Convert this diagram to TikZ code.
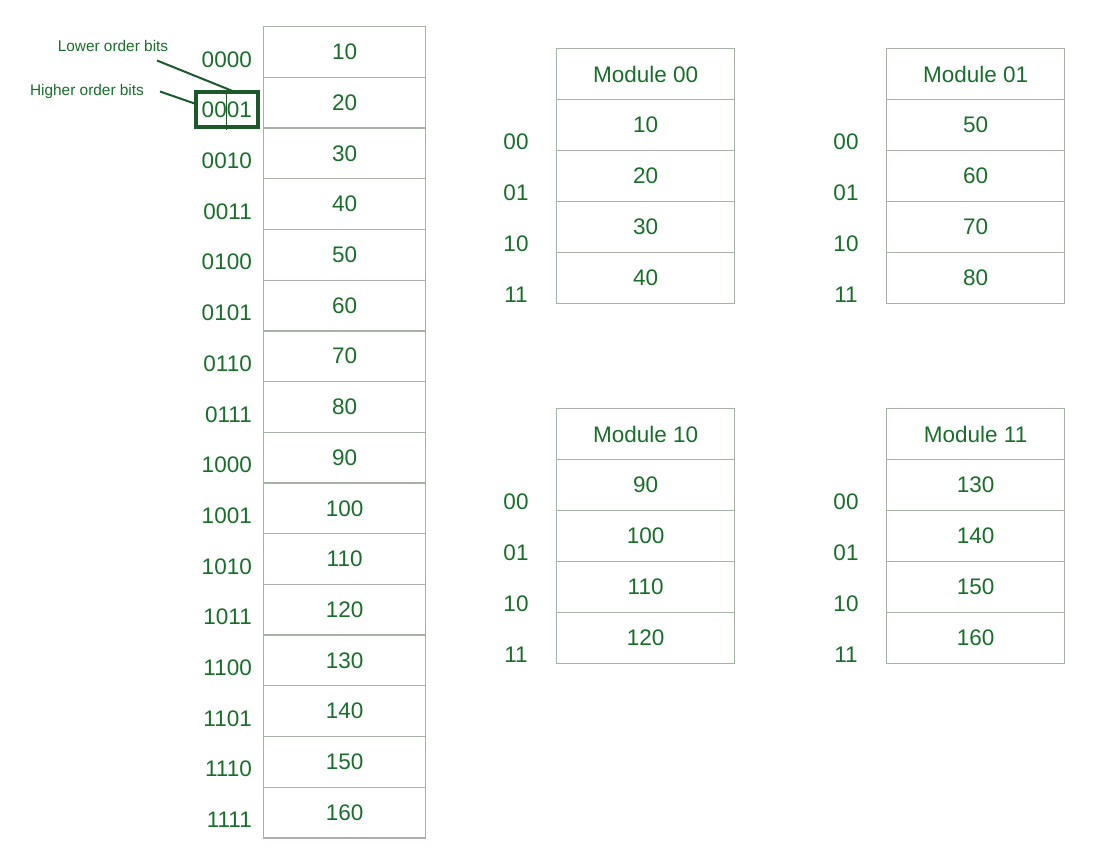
\documentclass[tikz,border=0pt]{standalone}
\usepackage{fontspec}
\setmainfont{Liberation Sans}
\definecolor{txtgreen}{RGB}{24,110,42}
\definecolor{dkgreen}{RGB}{28,88,40}
\definecolor{cellgray}{RGB}{165,178,165}
\begin{document}
\begin{tikzpicture}[x=1pt,y=-1pt,
  cell/.style={draw=cellgray,line width=1.3pt,minimum width=162pt,minimum height=50.7pt,inner sep=0pt,anchor=north west,text=txtgreen,font=\fontsize{22.5}{26}\selectfont},
  mcell/.style={draw=cellgray,line width=1.3pt,minimum width=178pt,minimum height=51pt,inner sep=0pt,anchor=north west,text=txtgreen,font=\fontsize{22.5}{26}\selectfont},
  addr/.style={inner sep=0pt,text=txtgreen,font=\fontsize{22.5}{26}\selectfont},
  note/.style={inner sep=0pt,text=txtgreen,font=\fontsize{15.4}{18}\selectfont},
  hilite/.style={draw=dkgreen,line width=3.5pt,inner sep=0pt,minimum width=62pt,minimum height=35pt},
  pointer/.style={draw=dkgreen,line width=2pt}]
\useasboundingbox (0,0) rectangle (1112,865);
% left memory column
\foreach \v [count=\i from 0] in {10,20,30,40,50,60,70,80,90,100,110,120,130,140,150,160}{
  \node[cell] (c\i) at (263,{26+\i*50.7}) {\v};
}
\foreach \a [count=\i from 0] in {0000,0001,0010,0011,0100,0101,0110,0111,1000,1001,1010,1011,1100,1101,1110,1111}{
  \node[addr,anchor=east] (a\i) at (252,{51.35+\i*50.7+8}) {\a};
}
% highlight box
\node[hilite] (hb) at (227,109.5) {};
\coordinate (divtop) at (226.7,92);
\coordinate (divbot) at (226.7,130);
\draw[dkgreen,line width=1pt] (divtop) -- (divbot);
% annotations
\node[note] (low) at (113,46) {Lower order bits};
\node[note] (high) at (87,92) {Higher order bits};
\coordinate (lowstart) at (157,60.5);
\coordinate (lowend) at (235,92);
\coordinate (highstart) at (160,91.5);
\coordinate (highend) at (196,104);
\draw[pointer] (lowstart) -- (lowend);
\draw[pointer] (highstart) -- (highend);
% modules
\foreach \mx/\my/\name/\vals in {556/48/00/{10,20,30,40},886/48/01/{50,60,70,80},556/408/10/{90,100,110,120},886/408/11/{130,140,150,160}}{
  \node[mcell] (m\name h) at (\mx,\my) {Module \name};
  \foreach \v [count=\j from 1] in \vals {
    \node[mcell] (m\name r\j) at (\mx,{\my+\j*51}) {\v};
  }
  \foreach \l [count=\j from 1] in {00,01,10,11}{
    \node[addr] (m\name l\j) at ({\mx-40},{\my+\j*51+25.5+17.5}) {\l};
  }
}
\end{tikzpicture}
\end{document}
